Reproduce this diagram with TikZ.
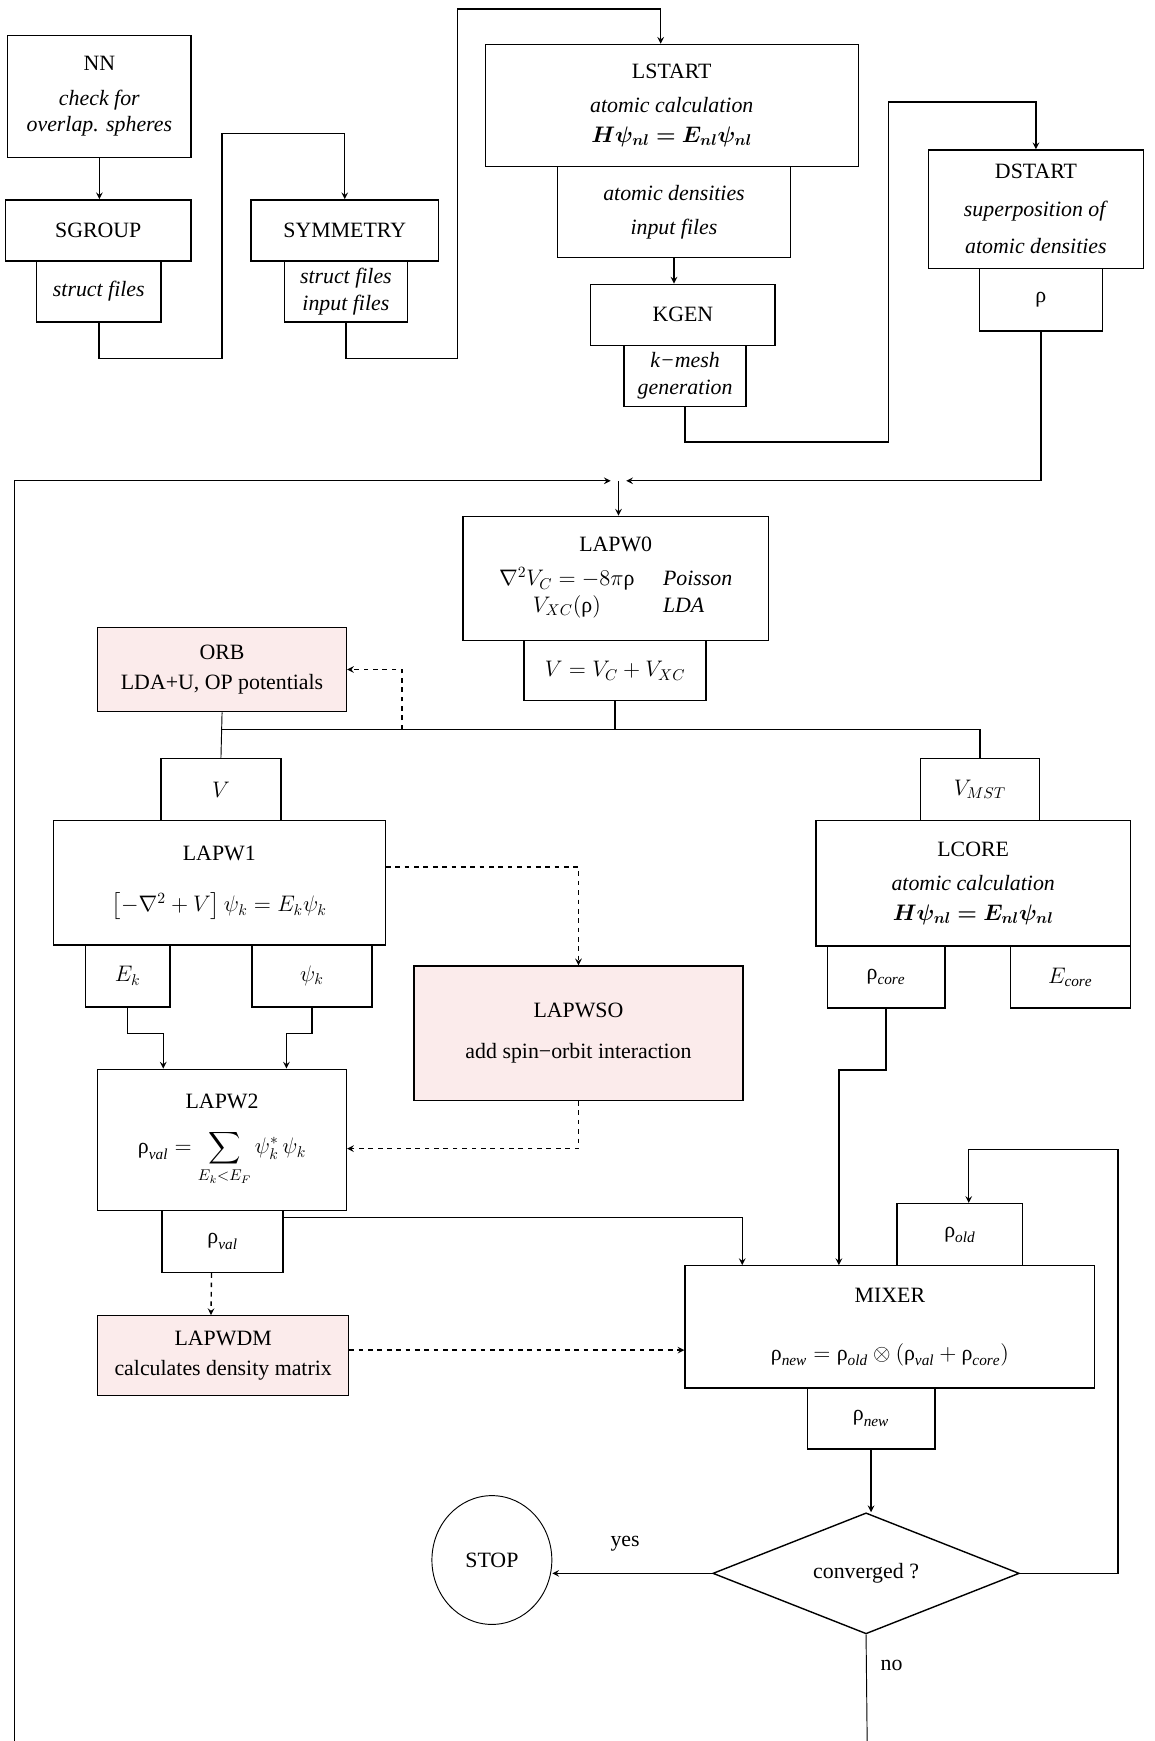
\documentclass[tikz,border=0pt]{standalone}
\usepackage{amsmath,bm}
\usepackage{fontspec}
\setmainfont{Liberation Serif}
\usetikzlibrary{calc,shapes.geometric}
\definecolor{orbpink}{RGB}{251,235,235}
\newcommand{\rhot}{\mbox{ρ}}
\tikzset{
  box/.style={draw,inner sep=0pt,align=center},
  extra/.style={box,fill=orbpink},
  wh/.style 2 args={minimum width=#1*0.025cm,minimum height=#2*0.025cm}
}

\begin{document}
\begin{tikzpicture}[
  x=0.025cm, y=-0.025cm,
  every node/.style={font=\fontsize{14}{17}\selectfont},
  line width=0.9pt, >=stealth
]
  \useasboundingbox (0,0) rectangle (1040,1568);

  % initialisation
  \node[box,wh={165}{110}] (nn) at (89.5,87) {NN\\[5pt]\textit{check for}\\\textit{overlap. spheres}};
  \node[box,wh={167}{55}] (sgroup) at (88.5,207.5) {SGROUP};
  \node[box,wh={112}{55}] (sgroupout) at (89,262.5) {\textit{struct files}};
  \node[box,wh={169}{55}] (sym) at (310.5,207.5) {SYMMETRY};
  \node[box,wh={111}{55}] (symout) at (311.5,262.5) {\textit{struct files}\\\textit{input files}};
  \node[box,wh={336}{110}] (lstart) at (605,95) {LSTART\\[5pt]\textit{atomic calculation}\\[2pt]$\bm{H\psi_{nl} = E_{nl}\psi_{nl}}$};
  \node[box,wh={210}{82}] (lstartout) at (607,191) {\textit{atomic densities}\\[5pt]\textit{input files}};
  \node[box,wh={166}{55}] (kgen) at (615,283.5) {KGEN};
  \node[box,wh={110}{55}] (kgenout) at (617,338.5) {\textit{k−mesh}\\\textit{generation}};
  \node[box,wh={194}{107}] (dstart) at (933,188.5) {DSTART\\[7pt]\textit{superposition of}\\[7pt]\textit{atomic densities}};
  \node[box,wh={111}{56}] (dstartout) at (937.5,270) {ρ};

  % scf cycle
  \node[box,wh={275}{112}] (lapw0) at (554.5,521) {LAPW0\\[5pt]
    \begin{tabular}[t]{@{}c@{\hspace{1.3em}}l@{}}
      $\nabla^2 V_C = -8\pi\rhot$ & \textit{Poisson}\\
      $V_{XC}(\rhot)$ & \textit{LDA}
    \end{tabular}};
  \node[box,wh={164}{54}] (lapw0out) at (554,604) {$V = V_C + V_{XC}$};
  \node[extra,wh={224}{76}] (orb) at (200,603) {ORB\\[2pt]LDA+U, OP potentials};
  \node[box,wh={108}{56}] (vin) at (199,711) {$V$};
  \node[box,wh={299}{112}] (lapw1) at (197.5,795) {LAPW1\\[16pt]$\left[-\nabla^2+V\right]\psi_k = E_k\psi_k$};
  \node[box,wh={76}{56}] (ek) at (115,879) {$E_k$};
  \node[box,wh={108}{56}] (psik) at (281,879) {$\psi_k$};
  \node[extra,wh={296}{121}] (lapwso) at (521,930.5) {LAPWSO\\[9pt]add spin−orbit interaction};
  \node[box,wh={224}{127}] (lapw2) at (200,1026.5) {LAPW2\\[12pt]$\displaystyle\rhot_{\mathit{val}} = \sum_{E_k<E_F}\psi_k^{*}\,\psi_k$};
  \node[box,wh={109}{56}] (rhoval) at (200.5,1118) {$\rhot_{\mathit{val}}$};
  \node[extra,wh={226}{72}] (lapwdm) at (201,1221) {LAPWDM\\[2pt]calculates density matrix};
  \node[box,wh={107}{56}] (vmst) at (882.5,711) {$V_{MST}$};
  \node[box,wh={283}{113}] (lcore) at (876.5,795.5) {LCORE\\[5pt]\textit{atomic calculation}\\[2pt]$\bm{H\psi_{nl} = E_{nl}\psi_{nl}}$};
  \node[box,wh={106}{56}] (rhocore) at (798,880) {$\rhot_{\mathit{core}}$};
  \node[box,wh={108}{56}] (ecore) at (964,880) {$E_{\mathit{core}}$};
  \node[box,wh={113}{56}] (rhoold) at (864.5,1112) {$\rhot_{\mathit{old}}$};
  \node[box,wh={369}{110}] (mixer) at (801.5,1195) {MIXER\\[20pt]$\rhot_{\mathit{new}} = \rhot_{\mathit{old}} \otimes (\rhot_{\mathit{val}} + \rhot_{\mathit{core}})$};
  \node[box,wh={115}{55}] (rhonew) at (784.5,1277.5) {$\rhot_{\mathit{new}}$};
  \node[draw,diamond,aspect=2.5,inner sep=0pt,wh={276}{109}] (conv) at (780,1417) {converged ?};
  \node[draw,ellipse,line width=0.6pt,inner sep=0pt,wh={108}{116}] (stop) at (443,1405) {STOP};
  \node (yes) at (563,1390) {yes};
  \node (no) at (803,1500) {no};

  \coordinate (join) at (557,433);
  \coordinate (bus) at (557,657);
  \coordinate (tap) at (362,657);
  \coordinate (noend) at (781,1568);
  \coordinate (backend) at (13,1568);

  % connectors
  \draw[->] (nn.south) -- (nn.south |- sgroup.north);
  \draw[->] (sgroupout.south) |- (200,323) -- (200,120) -| (sym.north);
  \draw[->] (symout.south) |- (412,323) -- (412,8) -| ($(lstart.north)+(-10,0)$);
  \draw[->] (lstartout.south) -- (lstartout.south |- kgen.north);
  \draw[->] (kgenout.south) |- (800,398) -- (800,92) -| (dstart.north);
  \draw[->] (dstartout.south) |- ($(join)+(7,0)$);
  \draw[->] (backend) |- ($(join)+(-7,0)$);
  \draw[->] (join) -- (join |- lapw0.north);
  \draw (lapw0out.south) -- (lapw0out.south |- bus);
  \draw[line width=0.6pt] (orb.south) -- (vin.north);
  \draw (vin.north |- bus) -| (vmst.north);
  \draw[dashed,->] (tap) |- (orb.east);
  \draw[->] (ek.south) -- ++(0,23) -| ($(lapw2.north)+(-53,0)$);
  \draw[->] (psik.south) -- ++(0,23) -| ($(lapw2.north)+(58,0)$);
  \draw[dashed,->] ($(lapw1.east)+(0,-14)$) -| (lapwso.north);
  \draw[dashed,->] (lapwso.south) |- ($(lapw2.east)+(0,8)$);
  \draw[->] ($(rhoval.north east)+(0,7)$) -| ($(mixer.north)+(-133,0)$);
  \draw[->] (rhocore.south) -- ++(0,55) -| ($(mixer.north)+(-46,0)$);
  \draw[dashed,->] ($(rhoval.south)+(-10,0)$) -- ($(lapwdm.north)+(-11,0)$);
  \draw[dashed,->] ($(lapwdm.east)+(0,-5)$) -- ($(mixer.west)+(0,21)$);
  \draw[->] (rhonew.south) -- (rhonew.south |- conv.north);
  \draw[->] (conv.west) -- (conv.west -| stop.east);
  \draw[->] (conv.east) -| (1007,1035) -| ($(rhoold.north)+(8,0)$);
  \draw[line width=0.6pt] (conv.south) -- (noend);
\end{tikzpicture}
\end{document}
